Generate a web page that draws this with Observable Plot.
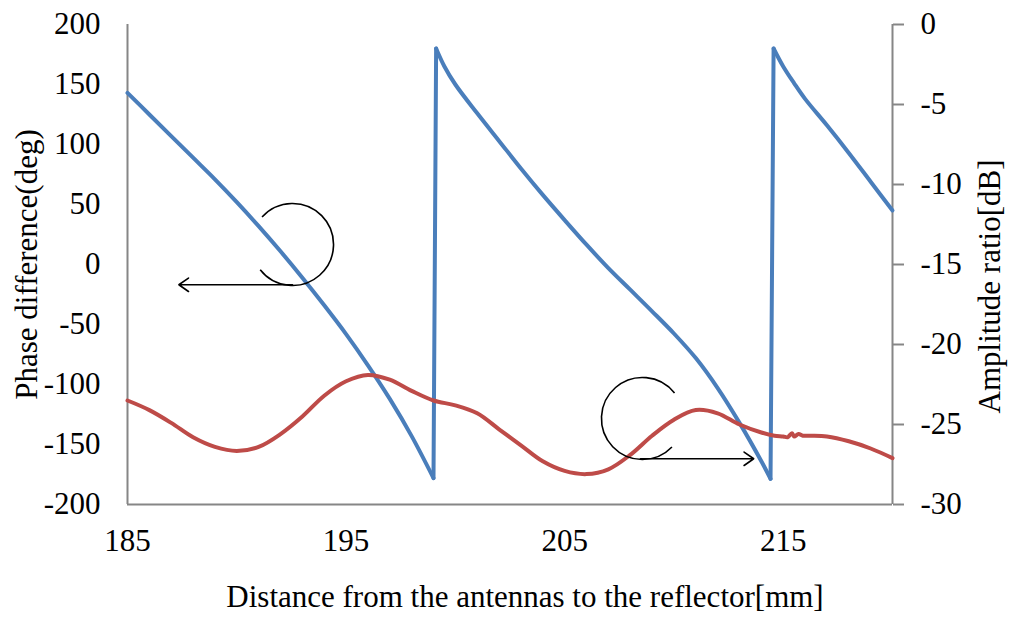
<!DOCTYPE html>
<html>
<head>
<meta charset="utf-8">
<script src="https://cdn.jsdelivr.net/npm/d3@7"></script>
<script src="https://cdn.jsdelivr.net/npm/@observablehq/plot@0.6"></script>
<style>
  html, body { margin: 0; padding: 0; background: #fff; }
  svg { display: block; }
</style>
</head>
<body>
<div id="chart"></div>
<script>
// ---- Data ----
// Phase difference (deg) vs distance (mm)
const phaseX = [185, 186, 187, 188, 189, 190, 191, 192, 193, 194, 195, 196, 197, 198, 199.0,
                199.12, 199.5, 200, 201, 202, 203, 204, 205, 206, 207, 208, 209, 210, 211, 212, 213, 214, 214.42,
                214.56, 215, 215.5, 216, 217, 218, 219, 220];
const phaseDeg = [143, 125, 107, 89, 71, 52, 32, 11, -11, -34, -58, -84, -112, -143, -178,
                  180, 165, 150, 126, 103, 80, 58, 37, 16.5, -3, -21, -39, -57.5, -78, -103, -132, -164, -178.6,
                  180, 165, 151, 138, 116, 93, 69, 45];

// Amplitude ratio (dB) vs distance (mm)
const ampX = [185, 186, 187, 188, 189, 190, 191, 192, 193, 194, 195, 196, 197, 198, 199, 200,
              201, 202, 203, 204, 205, 206, 207, 208, 209, 210, 211, 212, 213, 214,
              214.6, 215, 215.2, 215.4, 215.5, 215.7, 215.9, 216.3, 217, 218, 219, 220];
const ampDb = [-23.5, -24.1, -24.9, -25.8, -26.4, -26.65, -26.4, -25.6, -24.5, -23.2, -22.3, -21.9, -22.2, -22.9, -23.5, -23.8,
               -24.3, -25.3, -26.3, -27.3, -27.9, -28.1, -27.8, -26.9, -25.7, -24.7, -24.1, -24.3, -25.0, -25.5,
               -25.7, -25.75, -25.8, -25.55, -25.75, -25.6, -25.7, -25.7, -25.75, -26.05, -26.5, -27.1];

// Ticks
const xTicks = [185, 195, 205, 215];
const phaseTicks = [200, 150, 100, 50, 0, -50, -100, -150, -200];
const dbTicks = [0, -5, -10, -15, -20, -25, -30];

// Annotations (data coordinates: distance, phase)
const arcCenterX = [192.55, 208.56];
const arcCenterY = [16.7, -128.3];
const arrowFromX = [192.55, 208.47];
const arrowToX = [187.35, 213.65];
const arrowY = [-16.9, -161.9];

// Titles
const xTitle = ["Distance from the antennas to the reflector[mm]"];
const yLeftTitle = ["Phase difference(deg)"];
const yRightTitle = ["Amplitude ratio[dB]"];

// ---- Helpers ----
const phaseMin = -200, phaseMax = 200, dbMin = -30, dbMax = 0;
const dbToPhase = d => phaseMin + (d - dbMin) * (phaseMax - phaseMin) / (dbMax - dbMin);
const phaseToDb = p => dbMin + (p - phaseMin) * (dbMax - dbMin) / (phaseMax - phaseMin);

// Split the wrapped phase into continuous branches, and collect the wrap jumps
const phaseRows = phaseX.map((x, i) => ({ x, y: phaseDeg[i] }));
let branch = 0;
phaseRows.forEach((d, i) => {
  if (i > 0 && Math.abs(d.y - phaseRows[i - 1].y) > 180) branch++;
  d.branch = branch;
});
const jumpRows = [];
phaseRows.forEach((d, i) => {
  if (i > 0 && d.branch !== phaseRows[i - 1].branch) {
    jumpRows.push({ ...phaseRows[i - 1], jump: d.branch }, { ...d, jump: d.branch });
  }
});

const arcSymbol = (a0, a1) => ({
  draw(context, size) {
    const r = Math.sqrt(size / Math.PI);
    context.arc(0, 0, r, a0 * Math.PI / 180, a1 * Math.PI / 180, false);
  }
});

const axisGray = "#868686";
const blue = "#4a7ebb";
const red = "#be4b48";
const font = "'Liberation Serif', 'Times New Roman', serif";
const fs = 31;

const chart = Plot.plot({
  width: 1012,
  height: 619,
  marginTop: 24,
  marginBottom: 115,
  marginLeft: 127,
  marginRight: 120,
  style: { fontFamily: font, fontSize: fs + "px", color: "black", background: "white" },
  x: { domain: [185, 220] },
  y: { domain: [phaseMin, phaseMax] },
  marks: [
    // axis lines
    Plot.ruleX([185], { y1: phaseMin, y2: phaseMax, stroke: axisGray, strokeWidth: 2 }),
    Plot.ruleX([220], { y1: phaseMin, y2: phaseMax, stroke: axisGray, strokeWidth: 2 }),
    Plot.ruleY([phaseMin], { x1: 185, x2: 220, stroke: axisGray, strokeWidth: 2 }),
    // axes
    Plot.axisX({ ticks: xTicks, tickSize: 0, tickPadding: 24, label: null, tickFormat: d => String(d), fontSize: fs }),
    Plot.axisY({ anchor: "left", ticks: phaseTicks, tickSize: 0, tickPadding: 27, label: null, tickFormat: d => String(d), fontSize: fs }),
    Plot.axisY({
      anchor: "right", ticks: dbTicks.map(dbToPhase), tickSize: 11, tickPadding: 17, label: null,
      tickFormat: p => String(Math.round(phaseToDb(p))), stroke: axisGray, strokeWidth: 2, fontSize: fs
    }),
    // series
    Plot.line(phaseRows, { x: "x", y: "y", z: "branch", stroke: blue, strokeWidth: 4, curve: "catmull-rom", strokeLinecap: "round", strokeLinejoin: "round" }),
    Plot.line(jumpRows, { x: "x", y: "y", z: "jump", stroke: blue, strokeWidth: 4, curve: "linear", strokeLinecap: "round" }),
    Plot.line(ampDb, { x: ampX, y: d => dbToPhase(d), stroke: red, strokeWidth: 4, curve: "catmull-rom" }),
    // annotations
    Plot.dot([0], { x: i => arcCenterX[i], y: i => arcCenterY[i], r: 41, symbol: arcSymbol(-138, 142), fill: "none", stroke: "black", strokeWidth: 1.6 }),
    Plot.dot([1], { x: i => arcCenterX[i], y: i => arcCenterY[i], r: 41, symbol: arcSymbol(44, 321.5), fill: "none", stroke: "black", strokeWidth: 1.6 }),
    Plot.arrow([0, 1], { x1: i => arrowFromX[i], x2: i => arrowToX[i], y1: i => arrowY[i], y2: i => arrowY[i], stroke: "black", strokeWidth: 1.6, headLength: 11, headAngle: 70 }),
    // titles
    Plot.text(xTitle, { text: d => d, frameAnchor: "bottom", dx: 15, dy: 93, textAnchor: "middle", lineAnchor: "middle", fontSize: fs }),
    Plot.text(yLeftTitle, { text: d => d, frameAnchor: "left", dx: -100, rotate: -90, textAnchor: "middle", lineAnchor: "middle", fontSize: fs }),
    Plot.text(yRightTitle, { text: d => d, frameAnchor: "right", dx: 98, dy: 22, rotate: -90, textAnchor: "middle", lineAnchor: "middle", fontSize: fs })
  ]
});

document.getElementById("chart").append(chart);
</script>
</body>
</html>
